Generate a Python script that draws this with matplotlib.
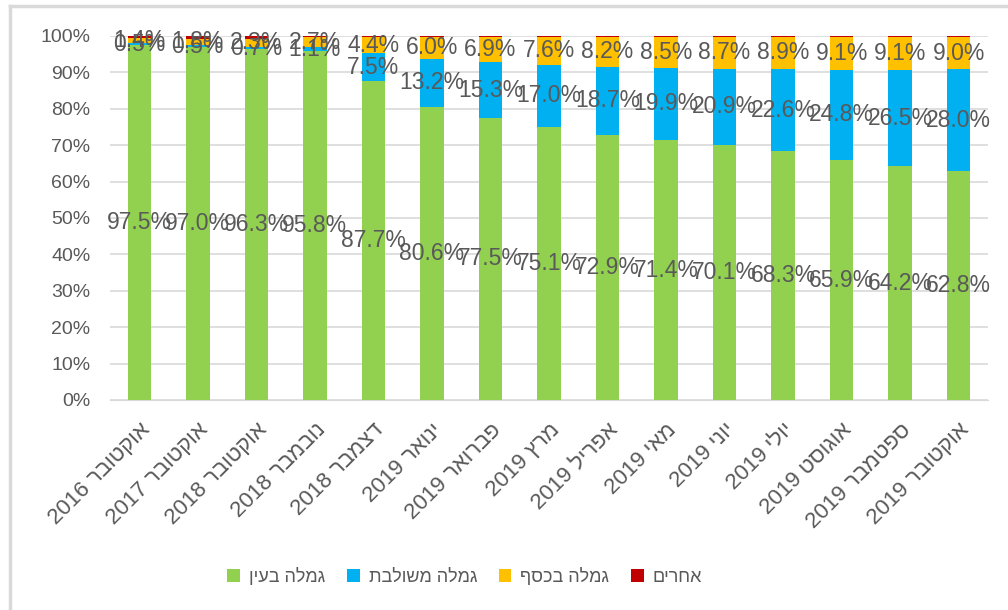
import numpy as np
import matplotlib
matplotlib.use("Agg")
import matplotlib.pyplot as plt
import matplotlib.ticker as mticker
from matplotlib.lines import Line2D

plt.rcParams['font.family'] = ['Liberation Sans', 'DejaVu Sans']

months = ["אוקטובר 2016", "אוקטובר 2017", "אוקטובר 2018", "נובמבר 2018", "דצמבר 2018",
          "ינואר 2019", "פברואר 2019", "מרץ 2019", "אפריל 2019", "מאי 2019",
          "יוני 2019", "יולי 2019", "אוגוסט 2019", "ספטמבר 2019", "אוקטובר 2019"]
series_names = ["גמלה בעין", "גמלה משולבת", "גמלה בכסף", "אחרים"]
in_kind = [97.5, 97.0, 96.3, 95.8, 87.7, 80.6, 77.5, 75.1, 72.9, 71.4, 70.1, 68.3, 65.9, 64.2, 62.8]
combined = [0.5, 0.5, 0.7, 1.1, 7.5, 13.2, 15.3, 17.0, 18.7, 19.9, 20.9, 22.6, 24.8, 26.5, 28.0]
cash = [1.4, 1.8, 2.3, 2.7, 4.4, 6.0, 6.9, 7.6, 8.2, 8.5, 8.7, 8.9, 9.1, 9.1, 9.0]
others = [0.6, 0.7, 0.7, 0.4, 0.4, 0.2, 0.3, 0.3, 0.2, 0.2, 0.3, 0.2, 0.2, 0.2, 0.2]
colors = ["#92D050", "#00B0F0", "#FFC000", "#C00000"]
text_gray = "#595959"


def visual(s):
    # matplotlib has no bidi: flip word order and reverse Hebrew words
    out = []
    for w in reversed(s.split(" ")):
        if any('\u0590' <= c <= '\u05ff' for c in w):
            w = w[::-1]
        out.append(w)
    return " ".join(out)


fig = plt.figure(figsize=(10.08, 6.10), dpi=100)
ax = fig.add_axes([110 / 1008, 1 - 400 / 610, (988 - 110) / 1008, (400 - 36) / 610])

x = np.arange(len(months))
bottom = np.zeros(len(months))
data = [in_kind, combined, cash, others]
for i, (vals, name, col) in enumerate(zip(data, series_names, colors)):
    vals = np.array(vals)
    ax.bar(x, vals, 0.4, bottom=bottom, color=col, label=visual(name), zorder=3)
    if i < 3:
        for xi, b, v in zip(x, bottom, vals):
            ax.text(xi, b + v / 2, f"{v:.1f}%", ha="center", va="center",
                    fontsize=16.5, color=text_gray, zorder=4)
    bottom += vals

ax.set_xlim(-0.5, len(months) - 0.5)
ax.set_ylim(0, 100)
ax.yaxis.set_major_locator(mticker.MultipleLocator(10))
ax.yaxis.set_major_formatter(mticker.FormatStrFormatter("%d%%"))
ax.grid(axis="y", color="#D9D9D9", linewidth=1.2, zorder=0)
for sp in ["top", "right", "left"]:
    ax.spines[sp].set_visible(False)
ax.spines["bottom"].set_color("#D9D9D9")
ax.tick_params(axis="y", length=0, labelsize=14, colors=text_gray, pad=14)
ax.tick_params(axis="x", length=0, labelsize=16, colors=text_gray, pad=14)
ax.set_xticks(x)
ax.set_xticklabels([visual(m) for m in months], rotation=45, ha="right",
                   rotation_mode="anchor")

leg = ax.legend(loc="center", bbox_to_anchor=(0.404, (400 - 577) / 364), ncol=4,
                frameon=False, fontsize=13, handlelength=0.7, handleheight=0.7,
                handletextpad=0.5, columnspacing=1.2, labelcolor=text_gray)

fig.add_artist(Line2D([9.5 / 1008, 9.5 / 1008], [0, 1 - 6 / 610], color="#D9D9D9", linewidth=2.5))
fig.add_artist(Line2D([9.5 / 1008, 1], [1 - 6 / 610, 1 - 6 / 610], color="#D9D9D9", linewidth=2.5))

fig.savefig("out.png", dpi=100)
